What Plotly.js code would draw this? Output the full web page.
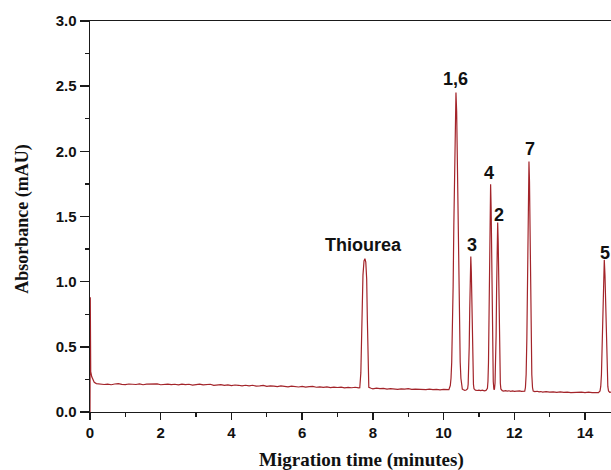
<!DOCTYPE html>
<html>
<head>
<meta charset="utf-8">
<script src="https://cdn.plot.ly/plotly-3.0.1.min.js"></script>
<style>
  html, body { margin: 0; padding: 0; background: #ffffff; }
  #chart { width: 611px; height: 470px; }
</style>
</head>
<body>
<div id="chart"></div>
<script>
// Migration time (minutes)
const time = [
  0, 0.008, 0.02, 0.05, 0.08, 0.12, 0.18, 0.25,
  0.3, 0.4, 0.5, 0.6, 0.7, 0.8, 0.9, 1.0, 1.1, 1.2, 1.3, 1.4, 1.5, 1.6, 1.7, 1.8, 1.9,
  2.0, 2.1, 2.2, 2.3, 2.4, 2.5, 2.6, 2.7, 2.8, 2.9, 3.0, 3.1, 3.2, 3.3, 3.4, 3.5, 3.6, 3.7, 3.8, 3.9,
  4.0, 4.1, 4.2, 4.3, 4.4, 4.5, 4.6, 4.7, 4.8, 4.9, 5.0, 5.1, 5.2, 5.3, 5.4, 5.5, 5.6, 5.7, 5.8, 5.9,
  6.0, 6.1, 6.2, 6.3, 6.4, 6.5, 6.6, 6.7, 6.8, 6.9, 7.0, 7.1, 7.2, 7.3, 7.4, 7.5, 7.6,
  7.63, 7.66, 7.69, 7.72, 7.75, 7.775, 7.8, 7.825, 7.845, 7.865, 7.885,
  7.95, 8.0, 8.1, 8.2, 8.3, 8.4, 8.5, 8.6, 8.7, 8.8, 8.9, 9.0, 9.1, 9.2, 9.3, 9.4, 9.5, 9.6, 9.7, 9.8, 9.9, 10.0, 10.1, 10.15,
  10.19, 10.21, 10.23, 10.25, 10.27, 10.29, 10.31, 10.33, 10.35, 10.37, 10.39, 10.41, 10.43, 10.45, 10.47, 10.49, 10.51, 10.53,
  10.56, 10.6, 10.64,
  10.68, 10.695, 10.71, 10.725, 10.74, 10.755, 10.77, 10.785, 10.8, 10.815, 10.83, 10.845, 10.86,
  10.9, 10.95, 11.0, 11.05, 11.1, 11.15, 11.2,
  11.24, 11.255, 11.27, 11.285, 11.3, 11.315, 11.33, 11.345, 11.36, 11.375, 11.39, 11.405, 11.42,
  11.43,
  11.44, 11.455, 11.47, 11.485, 11.5, 11.515, 11.53, 11.545, 11.56, 11.575, 11.59, 11.605, 11.62,
  11.66, 11.7, 11.75, 11.8, 11.85, 11.9, 11.95, 12.0, 12.05, 12.1, 12.15, 12.2, 12.25, 12.295,
  12.315, 12.335, 12.355, 12.37, 12.385, 12.4, 12.415, 12.43, 12.445, 12.46, 12.475, 12.495, 12.515, 12.535,
  12.58, 12.65, 12.7, 12.75, 12.8, 12.9, 13.0, 13.1, 13.2, 13.3, 13.4, 13.5, 13.6, 13.7, 13.8, 13.9, 14.0, 14.1, 14.2, 14.3, 14.38,
  14.425, 14.445, 14.465, 14.485, 14.505, 14.525, 14.545, 14.565, 14.585, 14.605, 14.625, 14.645, 14.665,
  14.7, 14.75, 14.8
];

// Absorbance (mAU)
const absorbance = [
  0.0, 0.88, 0.31, 0.27, 0.245, 0.228, 0.218, 0.214,
  0.216, 0.211, 0.214, 0.209, 0.215, 0.217, 0.212, 0.210, 0.215, 0.213, 0.211, 0.216, 0.209, 0.214, 0.215, 0.212, 0.216,
  0.209, 0.212, 0.214, 0.210, 0.213, 0.208, 0.214, 0.210, 0.213, 0.207, 0.211, 0.214, 0.208, 0.210, 0.213, 0.205, 0.207, 0.210, 0.204, 0.208,
  0.203, 0.207, 0.205, 0.200, 0.205, 0.201, 0.205, 0.199, 0.201, 0.204, 0.197, 0.201, 0.199, 0.195, 0.200, 0.197, 0.193, 0.198, 0.195, 0.192,
  0.196, 0.191, 0.194, 0.196, 0.190, 0.193, 0.189, 0.192, 0.187, 0.191, 0.188, 0.191, 0.185, 0.189, 0.186, 0.190, 0.185,
  0.186, 0.30, 0.70, 1.05, 1.16, 1.177, 1.15, 1.02, 0.70, 0.35, 0.19,
  0.182, 0.178, 0.183, 0.179, 0.181, 0.176, 0.180, 0.177, 0.174, 0.178, 0.175, 0.179, 0.173, 0.176, 0.174, 0.177, 0.172, 0.175, 0.171, 0.174, 0.170, 0.173, 0.169, 0.172,
  0.203, 0.259, 0.382, 0.606, 0.962, 1.429, 1.922, 2.305, 2.451, 2.305, 1.922, 1.429, 0.962, 0.606, 0.382, 0.259, 0.203, 0.176,
  0.170, 0.166, 0.169,
  0.178, 0.212, 0.306, 0.500, 0.790, 1.072, 1.193, 1.072, 0.790, 0.500, 0.306, 0.212, 0.178,
  0.168, 0.165, 0.168, 0.164, 0.167, 0.163, 0.166,
  0.181, 0.234, 0.378, 0.679, 1.125, 1.561, 1.748, 1.561, 1.125, 0.679, 0.378, 0.234, 0.181,
  0.170,
  0.177, 0.220, 0.337, 0.583, 0.947, 1.302, 1.454, 1.302, 0.947, 0.583, 0.337, 0.220, 0.177,
  0.164, 0.161, 0.164, 0.160, 0.163, 0.159, 0.162, 0.158, 0.161, 0.159, 0.162, 0.158, 0.160, 0.160,
  0.188, 0.287, 0.564, 0.929, 1.380, 1.767, 1.922, 1.767, 1.380, 0.929, 0.564, 0.287, 0.188, 0.160,
  0.156, 0.159, 0.154, 0.157, 0.153, 0.156, 0.152, 0.155, 0.151, 0.154, 0.150, 0.153, 0.149, 0.152, 0.150, 0.153, 0.149, 0.152, 0.148, 0.151, 0.149,
  0.162, 0.196, 0.288, 0.481, 0.768, 1.047, 1.167, 1.047, 0.768, 0.481, 0.288, 0.196, 0.162,
  0.151, 0.153, 0.150
];

// Peak labels
const peakLabels = ["Thiourea", "1,6", "3", "4", "2", "7", "5"];
const labelTimes = [7.73, 10.35, 10.795, 11.29, 11.567, 12.435, 14.56];
const labelValues = [1.282, 2.553, 1.282, 1.837, 1.512, 2.016, 1.218];

const yTickVals = [0, 0.5, 1.0, 1.5, 2.0, 2.5, 3.0];
const yTickText = ["0.0", "0.5", "1.0", "1.5", "2.0", "2.5", "3.0"];
const xTickVals = [0, 2, 4, 6, 8, 10, 12, 14];
const xTickText = ["0", "2", "4", "6", "8", "10", "12", "14"];

const lineColor = "#a3242a";
const axisColor = "#1a1a1a";
const tickFont = { family: "Liberation Sans, Arial, sans-serif", size: 15, weight: "bold", color: "#111111" };
const titleFont = { family: "Liberation Serif, Times New Roman, serif", size: 19, weight: "bold", color: "#111111" };

const trace = {
  x: time,
  y: absorbance,
  type: "scatter",
  mode: "lines",
  line: { color: lineColor, width: 1.2 },
  hoverinfo: "skip",
  cliponaxis: true
};

const annotations = peakLabels.map((t, i) => ({
  x: labelTimes[i], y: labelValues[i], xref: "x", yref: "y",
  text: t, showarrow: false, xanchor: "center", yanchor: "middle",
  font: { family: "Liberation Sans, Arial, sans-serif", size: 18, weight: "bold", color: "#111111" }
}));

annotations.push({
  x: 0.5215, y: -0.123, xref: "paper", yref: "paper",
  text: "Migration time (minutes)", showarrow: false,
  xanchor: "center", yanchor: "middle", font: titleFont
});
annotations.push({
  x: -0.131, y: 0.4936, xref: "paper", yref: "paper",
  text: "Absorbance (mAU)", showarrow: false, textangle: -90,
  xanchor: "center", yanchor: "middle", font: Object.assign({}, titleFont, { size: 18 })
});

const layout = {
  width: 611,
  height: 470,
  margin: { l: 90, r: 0, t: 21, b: 58, pad: 0 },
  paper_bgcolor: "#ffffff",
  plot_bgcolor: "#ffffff",
  showlegend: false,
  xaxis: {
    range: [0, 14.735],
    showgrid: false, zeroline: false,
    showline: true, linecolor: axisColor, linewidth: 1.4, mirror: true,
    ticks: "outside", ticklen: 7, tickwidth: 1.4, tickcolor: axisColor,
    tickvals: xTickVals, ticktext: xTickText,
    tickfont: tickFont,
    minor: { ticks: "outside", ticklen: 4, tickwidth: 1.2, tickcolor: axisColor, dtick: 1, tick0: 0 }
  },
  yaxis: {
    range: [0, 3.0],
    showgrid: false, zeroline: false,
    showline: true, linecolor: axisColor, linewidth: 1.4, mirror: false,
    ticks: "outside", ticklen: 9, tickwidth: 1.4, tickcolor: axisColor,
    tickvals: yTickVals, ticktext: yTickText,
    tickfont: tickFont,
    minor: { ticks: "outside", ticklen: 4, tickwidth: 1.2, tickcolor: axisColor, dtick: 0.25, tick0: 0 }
  },
  annotations: annotations
};

Plotly.newPlot("chart", [trace], layout, { displayModeBar: false, staticPlot: true });
</script>
</body>
</html>
